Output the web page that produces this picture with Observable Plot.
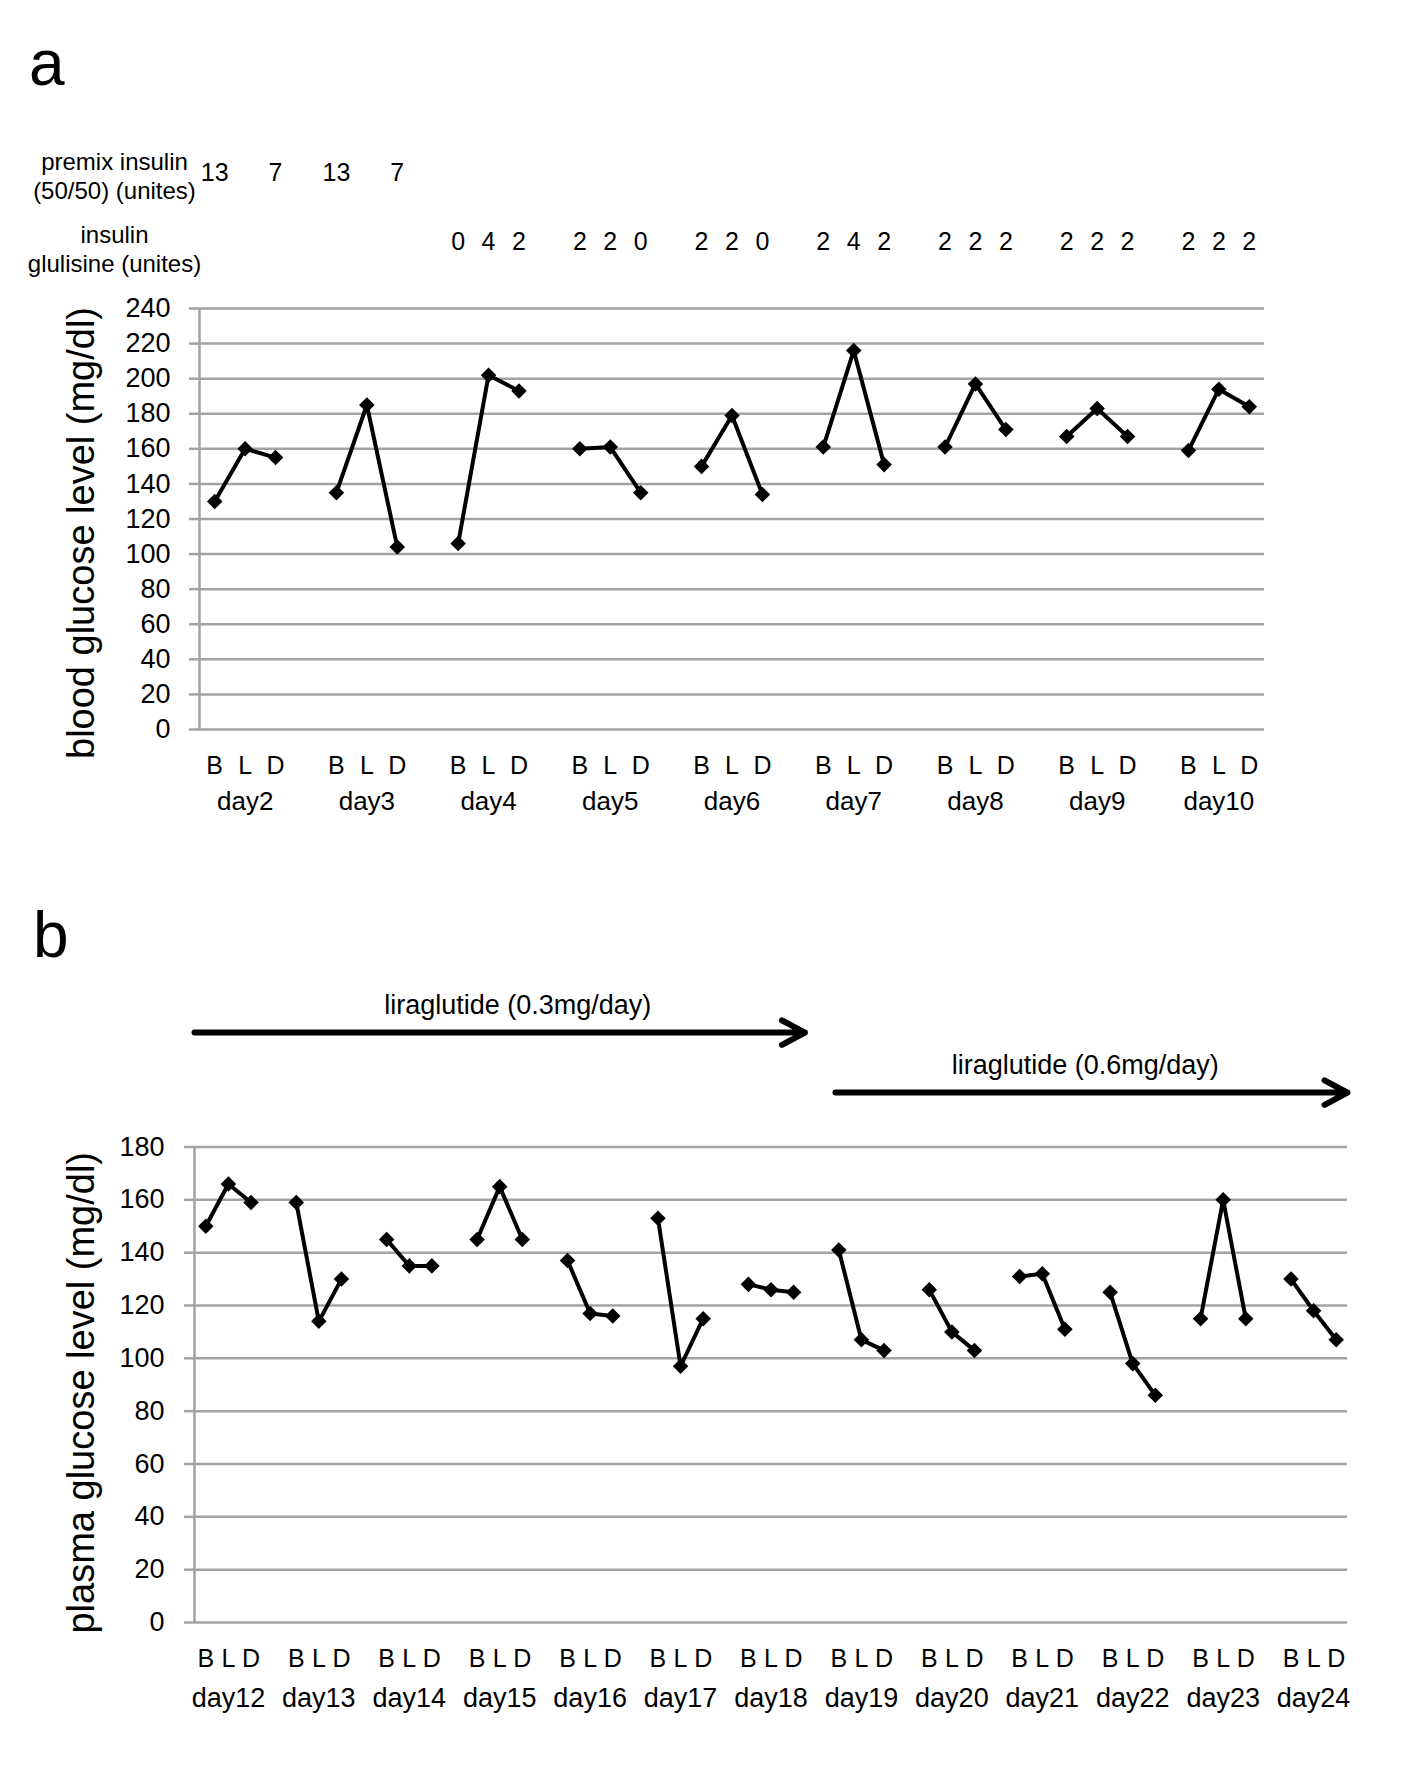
<!DOCTYPE html>
<html>
<head>
<meta charset="utf-8">
<script src="https://cdn.jsdelivr.net/npm/d3@7"></script>
<script src="https://cdn.jsdelivr.net/npm/@observablehq/plot@0.6"></script>
<style>
  body { margin: 0; background: #fff; }
  #wrap { position: relative; width: 1417px; height: 1775px; background: #fff;
          font-family: "Liberation Sans", Arial, Helvetica, sans-serif; }
  .panel { position: absolute; left: 0; }
  .lab { position: absolute; font-size: 64px; line-height: 1; color: #000; }
</style>
</head>
<body>
<div id="wrap">
  <div class="panel" id="pa" style="top:0px;"></div>
  <div class="panel" id="pb" style="top:850px;"></div>
  <div class="lab" style="left:29px; top:31px;">a</div>
  <div class="lab" style="left:33px; top:903px;">b</div>
</div>
<script>
const fontFamily = '"Liberation Sans", Arial, Helvetica, sans-serif';
const meals = ["B", "L", "D"];

// ---------- Panel a data ----------
const daysA = ["day2", "day3", "day4", "day5", "day6", "day7", "day8", "day9", "day10"];
const breakfastA = [130, 135, 106, 160, 150, 161, 161, 167, 159];
const lunchA     = [160, 185, 202, 161, 179, 216, 197, 183, 194];
const dinnerA    = [155, 104, 193, 135, 134, 151, 171, 167, 184];
const premixB = [13, 13, null, null, null, null, null, null, null];
const premixL = [null, null, null, null, null, null, null, null, null];
const premixD = [7, 7, null, null, null, null, null, null, null];
const glulisineB = [null, null, 0, 2, 2, 2, 2, 2, 2];
const glulisineL = [null, null, 4, 2, 2, 4, 2, 2, 2];
const glulisineD = [null, null, 2, 0, 0, 2, 2, 2, 2];
const yTicksA = [0, 20, 40, 60, 80, 100, 120, 140, 160, 180, 200, 220, 240];
const titleA = "blood glucose level (mg/dl)";
const premixLabel = "premix insulin\n(50/50) (unites)";
const glulisineLabel = "insulin\nglulisine (unites)";

// ---------- Panel b data ----------
const daysB = ["day12", "day13", "day14", "day15", "day16", "day17", "day18",
               "day19", "day20", "day21", "day22", "day23", "day24"];
const breakfastB = [150, 159, 145, 145, 137, 153, 128, 141, 126, 131, 125, 115, 130];
const lunchB     = [166, 114, 135, 165, 117,  97, 126, 107, 110, 132,  98, 160, 118];
const dinnerB    = [159, 130, 135, 145, 116, 115, 125, 103, 103, 111,  86, 115, 107];
const yTicksB = [0, 20, 40, 60, 80, 100, 120, 140, 160, 180];
const titleB = "plasma glucose level (mg/dl)";
const liraLabels = ["liraglutide (0.3mg/day)", "liraglutide (0.6mg/day)"];
const liraStart = [-0.5, 27.85];
const liraEnd = [26.5, 50.5];
const liraTextX = [13.8, 38.9];
const liraLevel = [223.3, 200.6];

// ---------- helpers ----------
function seriesRows(days, B, L, D) {
  const out = [];
  days.forEach((day, i) => {
    [B, L, D].forEach((arr, m) => {
      if (arr[i] != null) out.push({day, meal: meals[m], x: i * 4 + m, value: arr[i]});
    });
  });
  return out;
}
function slotRows(days) {
  const out = [];
  days.forEach((day, i) => meals.forEach((meal, m) => out.push({x: i * 4 + m, meal})));
  return out;
}
function dayRows(days) {
  return days.map((day, i) => ({x: i * 4 + 1, day}));
}
function doseRows(days, B, L, D) {
  const out = [];
  days.forEach((day, i) => {
    [B, L, D].forEach((arr, m) => {
      if (arr[i] != null) out.push({x: i * 4 + m, dose: String(arr[i])});
    });
  });
  return out;
}

const gridColor = "#a3a3a3";
const T = {textAnchor: "middle", lineAnchor: "middle", fill: "black"};

// ---------- Panel a ----------
const dataA = seriesRows(daysA, breakfastA, lunchA, dinnerA);
const plotA = Plot.plot({
  width: 1417, height: 850,
  marginTop: 308, marginBottom: 121, marginLeft: 199, marginRight: 153,
  x: {type: "linear", domain: [-0.5, daysA.length * 4 - 1.5], axis: null},
  y: {domain: [0, 240]},
  style: {fontFamily, background: "transparent", color: "black"},
  marks: [
    Plot.gridY(yTicksA, {stroke: gridColor, strokeOpacity: 1, strokeWidth: 2.5}),
    Plot.axisY(yTicksA, {tickSize: 10, tickPadding: 19, stroke: gridColor, strokeWidth: 2.5,
                         fill: "black", fontSize: 27, label: null}),
    Plot.ruleX([-0.5], {stroke: gridColor, strokeWidth: 2.5}),
    Plot.line(dataA, {x: "x", y: "value", z: "day", stroke: "black", strokeWidth: 4}),
    Plot.dot(dataA, {x: "x", y: "value", symbol: "diamond2", r: 7, fill: "black"}),
    Plot.text(slotRows(daysA), {...T, x: "x", text: "meal", frameAnchor: "bottom", dy: 36, fontSize: 25}),
    Plot.text(dayRows(daysA), {...T, x: "x", text: "day", frameAnchor: "bottom", dy: 72, fontSize: 26}),
    Plot.text(doseRows(daysA, premixB, premixL, premixD), {...T, x: "x", text: "dose", frameAnchor: "top", dy: -136, fontSize: 25}),
    Plot.text(doseRows(daysA, glulisineB, glulisineL, glulisineD), {...T, x: "x", text: "dose", frameAnchor: "top", dy: -67, fontSize: 25}),
    Plot.text([premixLabel], {...T, text: d => d, frameAnchor: "top-left", dx: -85, dy: -133.5, fontSize: 24, lineHeight: 1.2}),
    Plot.text([glulisineLabel], {...T, text: d => d, frameAnchor: "top-left", dx: -85, dy: -60, fontSize: 24, lineHeight: 1.2}),
    Plot.text([titleA], {...T, text: d => d, frameAnchor: "left", rotate: -90, dx: -118, dy: 14, fontSize: 38})
  ]
});
document.getElementById("pa").appendChild(plotA);

// ---------- Panel b ----------
const dataB = seriesRows(daysB, breakfastB, lunchB, dinnerB);
const liraRows = liraLabels.map((label, i) => ({label, x1: liraStart[i], x2: liraEnd[i], xt: liraTextX[i], y: liraLevel[i]}));
const plotB = Plot.plot({
  width: 1417, height: 925,
  marginTop: 296.5, marginBottom: 153, marginLeft: 194, marginRight: 70,
  x: {type: "linear", domain: [-0.5, daysB.length * 4 - 1.5], axis: null},
  y: {domain: [0, 180]},
  style: {fontFamily, background: "transparent", color: "black"},
  marks: [
    Plot.gridY(yTicksB, {stroke: gridColor, strokeOpacity: 1, strokeWidth: 2.5}),
    Plot.axisY(yTicksB, {tickSize: 10, tickPadding: 20, stroke: gridColor, strokeWidth: 2.5,
                         fill: "black", fontSize: 27, label: null}),
    Plot.ruleX([-0.5], {stroke: gridColor, strokeWidth: 2.5}),
    Plot.line(dataB, {x: "x", y: "value", z: "day", stroke: "black", strokeWidth: 4}),
    Plot.dot(dataB, {x: "x", y: "value", symbol: "diamond2", r: 7, fill: "black"}),
    Plot.text(slotRows(daysB), {...T, x: "x", text: "meal", frameAnchor: "bottom", dy: 36, fontSize: 25}),
    Plot.text(dayRows(daysB), {...T, x: "x", text: "day", frameAnchor: "bottom", dy: 76, fontSize: 27}),
    Plot.arrow(liraRows, {x1: "x1", x2: "x2", y1: "y", y2: "y", stroke: "black", strokeWidth: 6, headLength: 6.5, headAngle: 56}),
    Plot.text(liraRows, {...T, x: "xt", y: "y", text: "label", dy: -27, fontSize: 27}),
    Plot.text([titleB], {...T, text: d => d, frameAnchor: "left", rotate: -90, dx: -113, dy: 8, fontSize: 38})
  ]
});
document.getElementById("pb").appendChild(plotB);
</script>
</body>
</html>
